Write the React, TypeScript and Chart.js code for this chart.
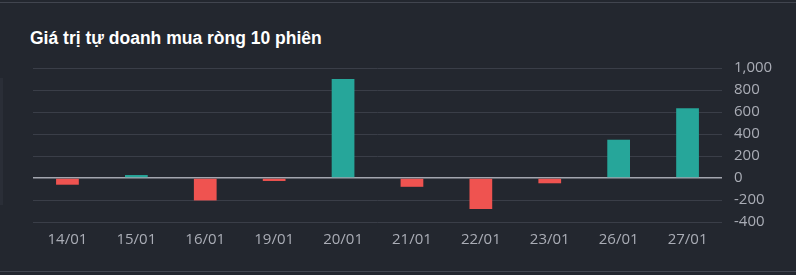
import React, { useEffect, useRef } from "react";
import { Chart, registerables } from "chart.js";

Chart.register(...registerables);

const categories = ["14/01", "15/01", "16/01", "19/01", "20/01", "21/01", "22/01", "23/01", "26/01", "27/01"];
const values = [-61, 27, -204, -27, 900, -80, -282, -48, 348, 634];
const yTicks = [-400, -200, 0, 200, 400, 600, 800, 1000];
const title = "Giá trị tự doanh mua ròng 10 phiên";

const GREEN = "#26a69a";
const RED = "#ef5350";

export default function App() {
  const ref = useRef<HTMLCanvasElement | null>(null);

  useEffect(() => {
    document.body.style.margin = "0";
    document.body.style.background = "#23272f";
    const ctx = ref.current!;
    const chart = new Chart(ctx, {
      type: "bar",
      data: {
        labels: categories,
        datasets: [
          {
            data: values,
            backgroundColor: values.map((v) => (v >= 0 ? GREEN : RED)),
            borderWidth: 0,
            categoryPercentage: 1,
            barPercentage: 0.33,
          },
        ],
      },
      options: {
        animation: false,
        responsive: false,
        maintainAspectRatio: false,
        layout: { padding: { left: 33, top: 68, right: 0, bottom: 0 } },
        plugins: { legend: { display: false }, tooltip: { enabled: false }, title: { display: false } },
        scales: {
          x: {
            grid: { display: false, drawTicks: false },
            border: { display: false },
            ticks: {
              color: "#aaadb6",
              font: { family: "'Open Sans'", size: 15 },
              padding: 9,
              maxRotation: 0,
            },
            afterFit: (s: any) => {
              s.height = 53;
            },
          },
          y: {
            position: "right",
            min: -400,
            max: 1000,
            afterBuildTicks: (s: any) => {
              s.ticks = yTicks.map((v) => ({ value: v }));
            },
            grid: {
              drawTicks: false,
              color: (c: any) => (c.tick && c.tick.value === 0 ? "#a3a6af" : "#3a3e48"),
              lineWidth: (c: any) => (c.tick && c.tick.value === 0 ? 1.5 : 1),
            },
            border: { display: false },
            ticks: {
              color: "#aaadb6",
              font: { family: "'Open Sans'", size: 15 },
              padding: 12,
              callback: (v: any) => Number(v).toLocaleString("en-US"),
            },
            afterFit: (s: any) => {
              s.width = 74;
            },
          },
        },
      },
    });
    return () => chart.destroy();
  }, []);

  return (
    <div style={{ position: "relative", width: 796, height: 275, background: "#23272f", overflow: "hidden" }}>
      <div style={{ position: "absolute", left: 0, top: 2, width: 796, height: 1, background: "#41454f" }} />
      <div style={{ position: "absolute", left: 0, top: 271, width: 796, height: 1, background: "#41454f" }} />
      <div style={{ position: "absolute", left: 0, top: 78, width: 3, height: 127, background: "#2a2e37" }} />
      <div
        style={{
          position: "absolute",
          left: 30,
          top: 28,
          color: "#ffffff",
          fontFamily: "'Liberation Sans', Arial, sans-serif",
          fontWeight: "bold",
          fontSize: 17.5,
          lineHeight: "20px",
          whiteSpace: "nowrap",
        }}
      >
        {title}
      </div>
      <canvas ref={ref} width={796} height={275} style={{ position: "absolute", left: 0, top: 0 }} />
    </div>
  );
}
